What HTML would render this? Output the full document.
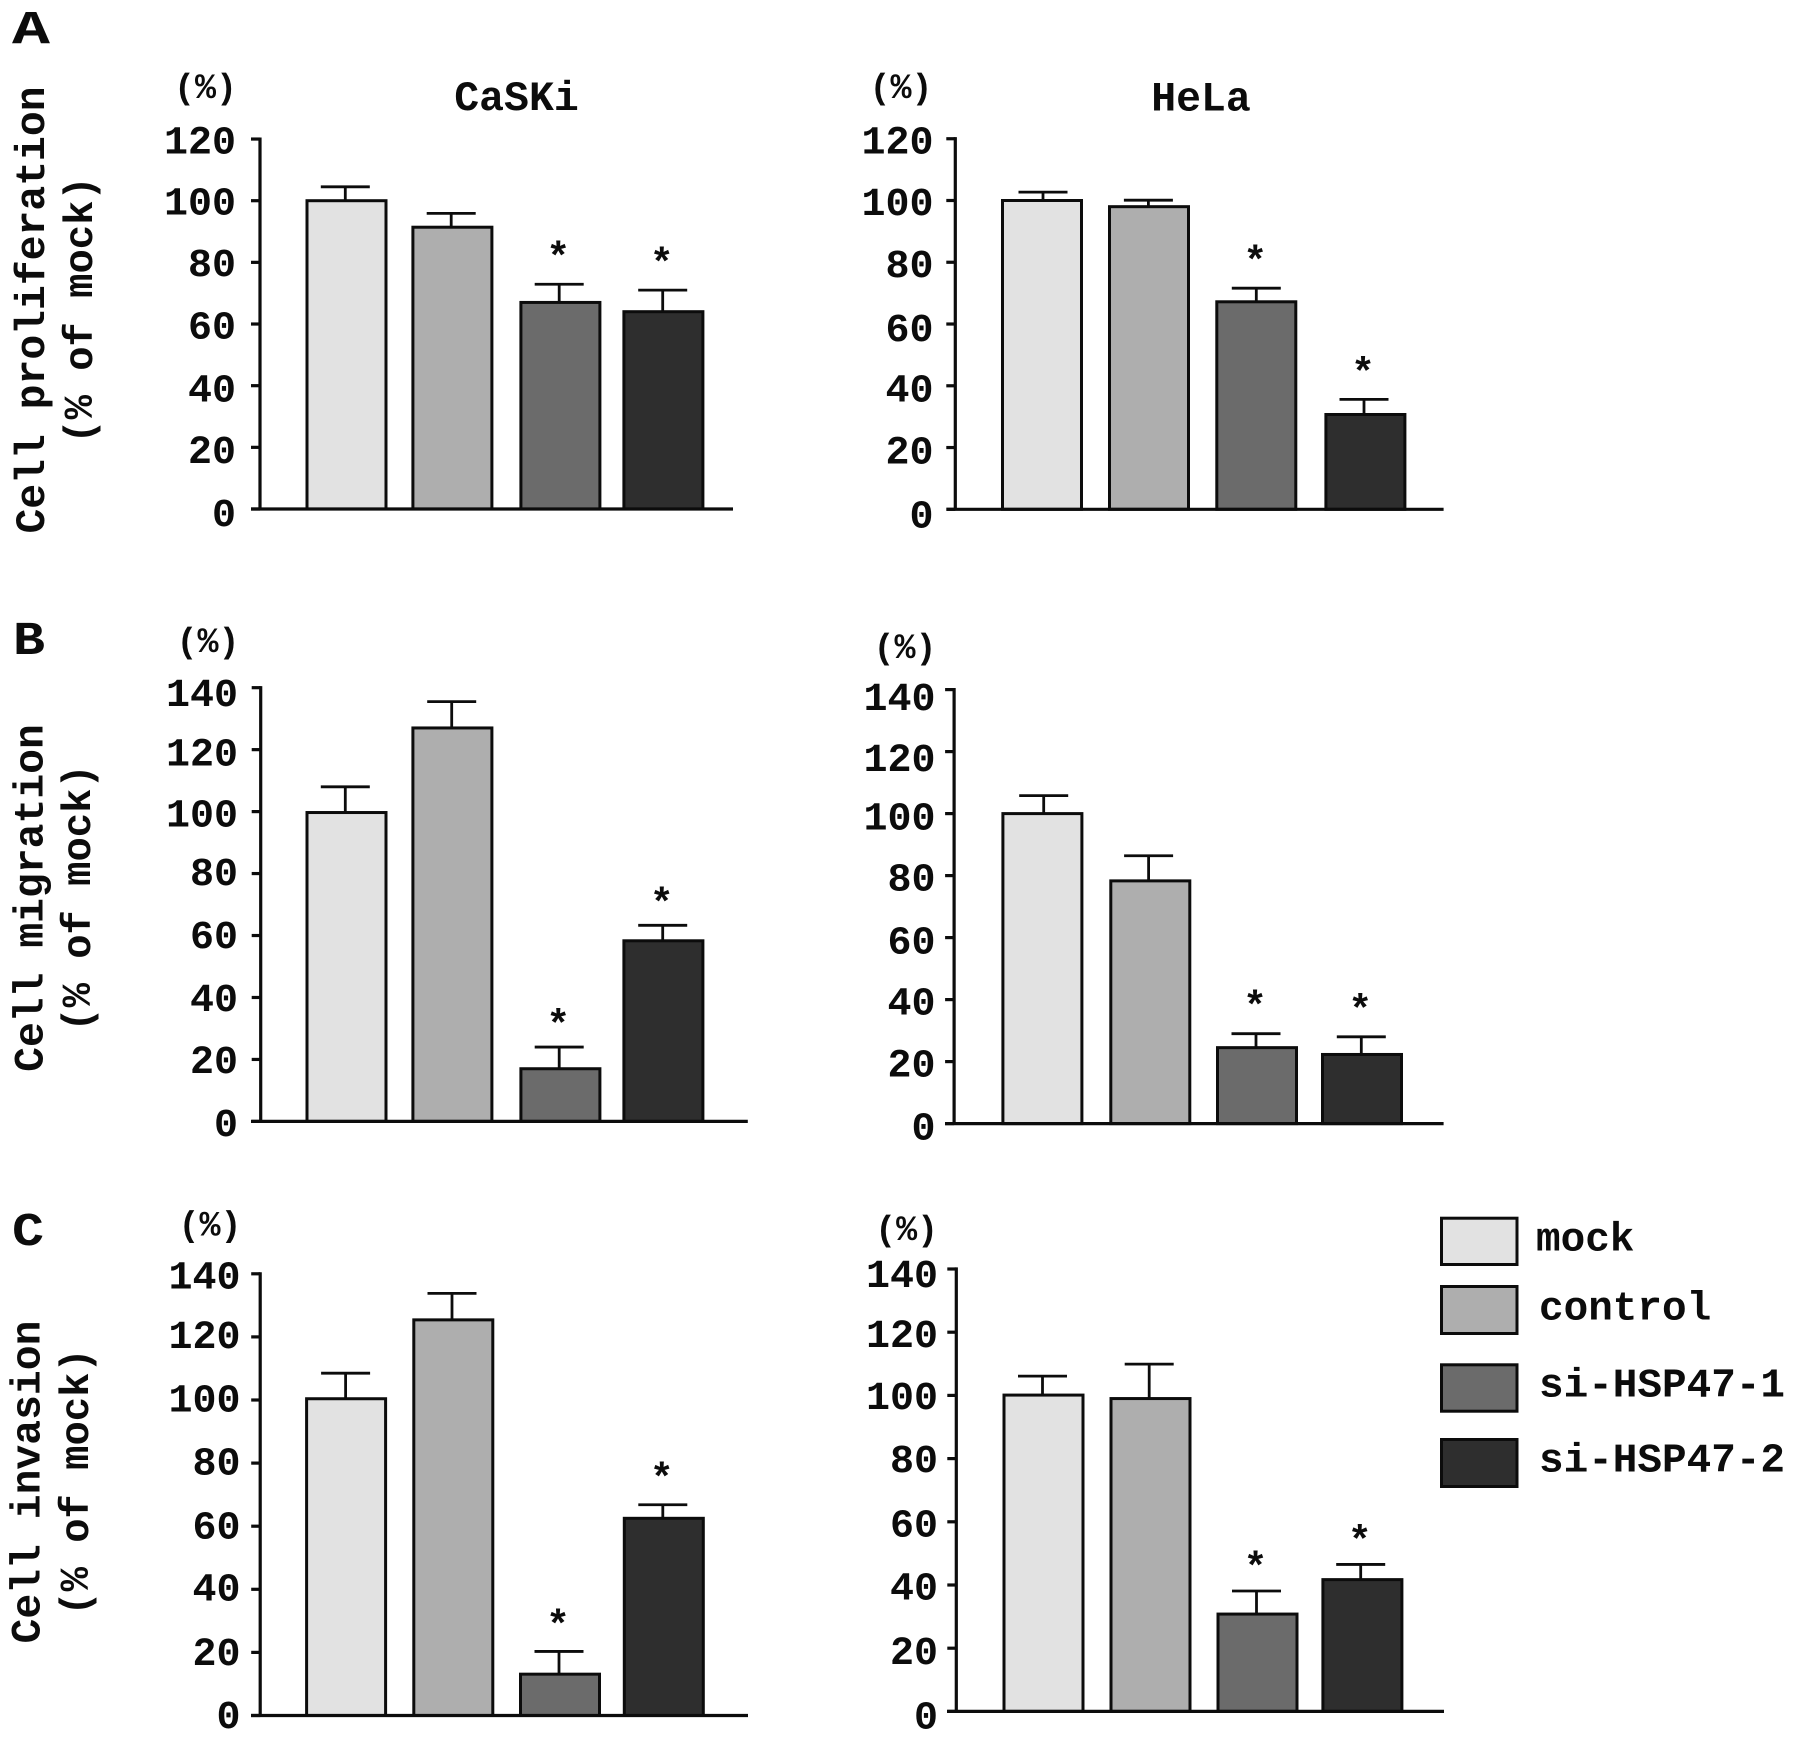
<!DOCTYPE html>
<html lang="en">
<head>
<meta charset="utf-8">
<title>HSP47 knockdown: proliferation, migration and invasion</title>
<style>
  html, body { margin: 0; padding: 0; background: #fff; }
  svg { display: block; }
  text { font-family: "Liberation Mono", monospace; font-weight: 700; fill: #0c0c0c; }
  .tick { font-size: 40px; }
  .pct { font-size: 35px; }
  .title { font-size: 41.5px; }
  .ytitle { font-size: 41.4px; text-anchor: middle; }
  .ysub { font-size: 40.5px; text-anchor: middle; }
  .letter { font-size: 47px; }
  .legend { font-size: 41px; }
  .star { font-size: 40px; text-anchor: middle; }
</style>
</head>
<body>
<svg id="figure" xmlns="http://www.w3.org/2000/svg" width="1795" height="1741" viewBox="0 0 1795 1741">
  <rect x="0" y="0" width="1795" height="1741" fill="#ffffff"/>

  <text class="letter" x="12" y="43" textLength="38" lengthAdjust="spacingAndGlyphs">A</text>
  <text class="letter" x="13" y="654" textLength="32" lengthAdjust="spacingAndGlyphs">B</text>
  <text class="letter" x="12" y="1245" textLength="32" lengthAdjust="spacingAndGlyphs">C</text>

  <text class="ytitle" transform="translate(44 310) rotate(-90)">Cell proliferation</text>
  <text class="ysub" transform="translate(92 310) rotate(-90)">(% of mock)</text>
  <text class="ytitle" transform="translate(42.5 898) rotate(-90)">Cell migration</text>
  <text class="ysub" transform="translate(90 898) rotate(-90)">(% of mock)</text>
  <text class="ytitle" transform="translate(39.5 1482) rotate(-90)">Cell invasion</text>
  <text class="ysub" transform="translate(88 1482) rotate(-90)">(% of mock)</text>

  <text class="title" x="516.5" y="110" text-anchor="middle">CaSKi</text>
  <text class="title" x="1201" y="110.5" text-anchor="middle">HeLa</text>

  <g id="panels"></g>
  <g id="legend"></g>
</svg>

<script>
// ---- data ----
const categories = ['mock', 'control', 'si-HSP47-1', 'si-HSP47-2'];
const ticks120 = [0, 20, 40, 60, 80, 100, 120];
const ticks140 = [0, 20, 40, 60, 80, 100, 120, 140];

const caskiProliferation = [100, 91.4, 67, 64];
const caskiProliferationErr = [4.5, 4.5, 5.9, 7];
const helaProliferation = [100, 98, 67.2, 30.7];
const helaProliferationErr = [2.7, 2.1, 4.4, 4.9];
const caskiMigration = [99.7, 127, 17, 58.3];
const caskiMigrationErr = [8.3, 8.5, 7, 5];
const helaMigration = [100, 78.3, 24.5, 22.3];
const helaMigrationErr = [5.8, 8.1, 4.5, 5.7];
const caskiInvasion = [100.4, 125.4, 13.1, 62.5];
const caskiInvasionErr = [8.1, 8.4, 7.2, 4.3];
const helaInvasion = [100.1, 99, 30.8, 41.7];
const helaInvasionErr = [6, 10.9, 7.3, 4.8];
const significant = [false, false, true, true];

// ---- styling for each category ----
const fills = ['#e2e2e2', '#aeaeae', '#6b6b6b', '#2e2e2e'];
const INK = '#0c0c0c';
const SVGNS = 'http://www.w3.org/2000/svg';

// ---- layout of each panel (axes frame, not values) ----
const panelLayouts = [
  { name: 'caski-proliferation', values: caskiProliferation, errs: caskiProliferationErr, ticks: ticks120,
    axisX: 260, y0: 509, unit: 3.083, xStart: 251, xEnd: 733, labelEnd: 236, pctX: 205.5, pctY: 98, starGap: 34.5,
    labelShift: [2.3, 1.1, 1.1, 0, -1.1, -1.1, 0],
    slots: [306.5, 412.4, 520.4, 623.4], stems: [345.3, 451.2, 559.2, 662.7] },
  { name: 'hela-proliferation', values: helaProliferation, errs: helaProliferationErr, ticks: ticks120,
    axisX: 955.3, y0: 509.3, unit: 3.088, xStart: 946.5, xEnd: 1443.6, labelEnd: 933.5, pctX: 901, pctY: 98, starGap: 34.5,
    labelShift: [3.4, 1.1, 1.1, 2.3, 0, 0, 0],
    slots: [1002, 1109, 1216.3, 1325.4], stems: [1043, 1148.4, 1256.3, 1364] },
  { name: 'caski-migration', values: caskiMigration, errs: caskiMigrationErr, ticks: ticks140,
    axisX: 260.7, y0: 1121.4, unit: 3.098, xStart: 251, xEnd: 747.8, labelEnd: 238, pctX: 208, pctY: 652, starGap: 30,
    labelShift: [0, -1.1, -1.1, -2.3, -3.4, 0, 1.1, 3.4],
    slots: [306.5, 412.4, 520.4, 623.4], stems: [345.3, 451.7, 559.2, 662.7] },
  { name: 'hela-migration', values: helaMigration, errs: helaMigrationErr, ticks: ticks140,
    axisX: 954.1, y0: 1123.6, unit: 3.1, xStart: 945, xEnd: 1443.6, labelEnd: 935.5, pctX: 905, pctY: 658, starGap: 35,
    labelShift: [1.1, 0, 0, 1.1, 0, 1.1, 4.6, 5.7],
    slots: [1002.4, 1110.3, 1217, 1322], stems: [1043.7, 1148.6, 1256, 1361.3] },
  { name: 'caski-invasion', values: caskiInvasion, errs: caskiInvasionErr, ticks: ticks140,
    axisX: 260.2, y0: 1715.5, unit: 3.155, xStart: 251, xEnd: 748, labelEnd: 240.5, pctX: 210, pctY: 1235.5, starGap: 34,
    labelShift: [-2.3, -2.3, -3.4, -2.3, -3.4, -3.4, -3.4, 0],
    slots: [306.1, 413.3, 520, 623.8], stems: [345.6, 452, 559, 662.8] },
  { name: 'hela-invasion', values: helaInvasion, errs: helaInvasionErr, ticks: ticks140,
    axisX: 956.3, y0: 1711.4, unit: 3.16, xStart: 947, xEnd: 1444, labelEnd: 938, pctX: 906.6, pctY: 1240, starGap: 31.5,
    labelShift: [2.3, 1.1, 0, 0, -1.1, -1.1, 0, 3.4],
    slots: [1003.5, 1110.5, 1217.5, 1322.4], stems: [1042.5, 1149.2, 1256.5, 1360.7] }
];

const BAR_WIDTH = 82;
const BAR_STROKE = 3;
const CAP_HALF = 24.5;
const TICK_LEN = 9;
const AXIS_STROKE = 3.2;

const legendRows = [
  { top: 1216.7, bottom: 1266, textX: 1536, baseline: 1250.5 },
  { top: 1285, bottom: 1335, textX: 1539, baseline: 1319.5 },
  { top: 1363.3, bottom: 1412.7, textX: 1539, baseline: 1396.5 },
  { top: 1438, bottom: 1488, textX: 1539, baseline: 1471.5 }
];

function make(tag, attrs, parent) {
  const el = document.createElementNS(SVGNS, tag);
  Object.keys(attrs).forEach(function (k) { el.setAttribute(k, attrs[k]); });
  parent.appendChild(el);
  return el;
}

function line(x1, y1, x2, y2, width, parent) {
  return make('line', { x1: x1, y1: y1, x2: x2, y2: y2, stroke: INK, 'stroke-width': width }, parent);
}

function drawPanel(p) {
  const yScale = function (v) { return p.y0 - v * p.unit; };
  const xScale = function (i) { return p.slots[i] - 1; };

  const g = make('g', {}, document.getElementById('panels'));
  
  

  const pct = make('text', { class: 'pct', x: p.pctX, y: p.pctY, 'text-anchor': 'middle' }, g);
  pct.textContent = '(%)';
  
  

  // bars first so the axes sit on top of their bases
  p.values.forEach(function (value, i) {
    const topY = yScale(value);
    const capY = yScale(value + p.errs[i]);
    const cx = p.stems[i];

    const stem = line(cx, capY, cx, topY, 2.8, g);
    
    

    const cap = line(cx - CAP_HALF, capY, cx + CAP_HALF, capY, 2.8, g);
    
    

    const bar = make('rect', {
      x: xScale(i) + BAR_STROKE / 2,
      y: topY,
      width: BAR_WIDTH - BAR_STROKE,
      height: p.y0 - topY,
      fill: fills[i],
      stroke: INK,
      'stroke-width': BAR_STROKE
    }, g);
    
    

    if (significant[i]) {
      const star = make('text', { class: 'star', x: cx - 1, y: capY - p.starGap + 20 }, g);
      star.textContent = '*';
      
      
    }
  });

  const top = yScale(p.ticks[p.ticks.length - 1]);

  const yAxis = line(p.axisX, top - 1.6, p.axisX, p.y0, AXIS_STROKE, g);
  
  

  const xAxis = line(p.xStart, p.y0, p.xEnd, p.y0, AXIS_STROKE, g);
  
  

  p.ticks.forEach(function (t, k) {
    const y = yScale(t);
    const mark = line(p.axisX - TICK_LEN, y, p.axisX, y, AXIS_STROKE, g);
    
    

    const label = make('text', { class: 'tick', x: p.labelEnd, y: y + 14.7 + p.labelShift[k], 'text-anchor': 'end' }, g);
    label.textContent = String(t);
    
    
  });
}

function drawLegend() {
  const g = document.getElementById('legend');
  categories.forEach(function (cat, i) {
    const row = legendRows[i];
    const swatch = make('rect', {
      x: 1441.5,
      y: row.top + 1.5,
      width: 75.5,
      height: row.bottom - row.top - 3,
      fill: fills[i],
      stroke: INK,
      'stroke-width': 3
    }, g);
    
    

    const label = make('text', { class: 'legend', x: row.textX, y: row.baseline }, g);
    label.textContent = cat;
    
    
  });
}

panelLayouts.forEach(drawPanel);
drawLegend();
</script>
</body>
</html>
